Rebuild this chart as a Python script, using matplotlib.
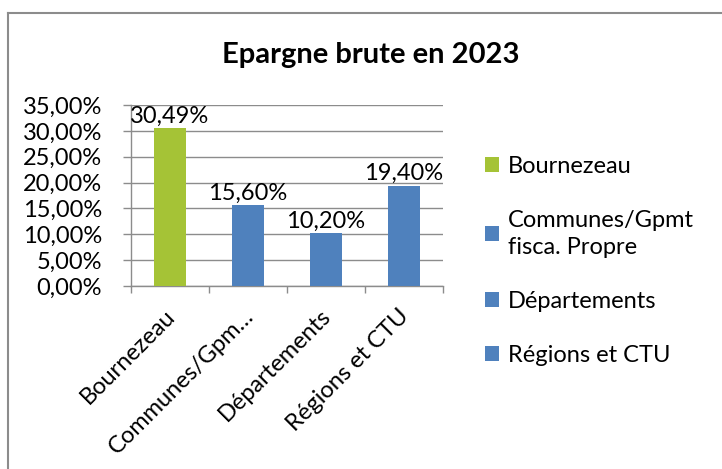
import matplotlib.pyplot as plt
from matplotlib.lines import Line2D
from matplotlib.patches import Patch

plt.rcParams["font.family"] = ["Lato", "DejaVu Sans"]

# Data
categories = ["Bournezeau", "Communes/Gpm…", "Départements", "Régions et CTU"]
legend_labels = ["Bournezeau", "Communes/Gpmt\nfisca. Propre", "Départements", "Régions et CTU"]
values = [30.49, 15.60, 10.20, 19.40]
colors = ["#A5C336", "#4F81BD", "#4F81BD", "#4F81BD"]
yticks = [0, 5, 10, 15, 20, 25, 30, 35]

fs = 17

fig = plt.figure(figsize=(7.22, 4.69), dpi=100)
ax = fig.add_axes([0.1814, 0.3902, 0.4321, 0.3859])

x = list(range(len(categories)))
bars = ax.bar(x, values, width=0.41, color=colors, zorder=3)
ax.bar_label(bars, labels=[f"{v:.2f}%".replace(".", ",") for v in values],
             fontsize=fs, padding=1, zorder=4)

ax.set_ylim(0, 35)
ax.set_xlim(-0.5, len(categories) - 0.5)
ax.set_yticks(yticks)
ax.set_yticklabels([f"{v:.2f}%".replace(".", ",") for v in yticks], fontsize=fs)
ax.grid(axis="y", color="#8c8c8c", linewidth=1, zorder=0)

# labels nudged a little left of the bar centre, like Excel does
ax.set_xticks([i - 0.07 for i in x])
ax.set_xticklabels(categories, rotation=45, ha="right", rotation_mode="anchor", fontsize=fs)
ax.set_xticks([i - 0.5 for i in range(len(categories) + 1)], minor=True)
ax.tick_params(axis="x", which="major", length=0, pad=14)
ax.tick_params(axis="x", which="minor", length=5, color="#8c8c8c", width=1)
ax.tick_params(axis="y", length=6, color="#8c8c8c", width=1, pad=15)

for side in ["top", "right"]:
    ax.spines[side].set_visible(False)
for side in ["left", "bottom"]:
    ax.spines[side].set_color("#8c8c8c")
    ax.spines[side].set_linewidth(1)

fig.text(0.513, 0.882, "Epargne brute en 2023", ha="center", va="center",
         fontsize=21, fontweight="bold")

handles = [Patch(facecolor=c, edgecolor="none") for c in colors]
leg = fig.legend(handles, legend_labels, loc="upper left", bbox_to_anchor=(0.672, 0.668),
                 frameon=False, fontsize=fs, handlelength=0.6, handleheight=0.6,
                 handletextpad=0.35, labelspacing=1.4, borderpad=0, borderaxespad=0)
for t in leg.get_texts():
    t.set_linespacing(1.35)

# chart border (cropped at right and bottom)
fig.add_artist(Line2D([0.011, 0.011], [0, 0.972], color="#8c8c8c", lw=1.5))
fig.add_artist(Line2D([0.011, 1], [0.972, 0.972], color="#8c8c8c", lw=1.5))

fig.savefig("out.png", dpi=100)
